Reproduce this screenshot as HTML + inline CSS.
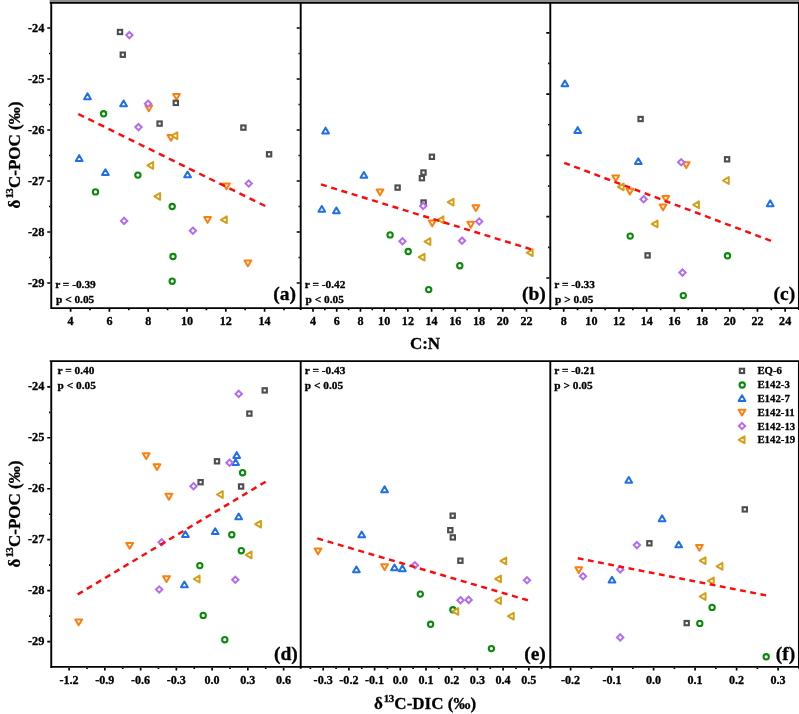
<!DOCTYPE html>
<html lang="en"><head><meta charset="utf-8"><title>d13C-POC vs C:N and d13C-DIC</title>
<style>html,body{margin:0;padding:0;background:#fff}body{width:799px;height:714px;overflow:hidden}svg{display:block}text{font-family:'Liberation Serif', 'DejaVu Serif', serif;font-weight:bold;fill:#000;stroke:#000;stroke-width:0.3px}</style></head><body>
<svg width="799" height="714" viewBox="0 0 799 714">
<rect width="799" height="714" fill="#fff"/>
<rect x="49.5" y="0" width="750" height="2.2" fill="#8e8e8e"/>
<g stroke="#000" stroke-width="1.9" fill="none" stroke-linecap="butt">
<path d="M50.25 308.1H799M51.25 2.7V309.1M300.7 2.7V309.90000000000003M550.3 2.7V309.90000000000003M798.9 2.7V309.90000000000003"/>
<path d="M49.75 361.1H799M50.25 666.9H799M51.25 361.1V667.9M300.7 361.1V668.6999999999999M550.3 361.1V668.6999999999999M798.9 361.1V668.6999999999999"/>
</g>
<path d="M49.75 2.8H799" stroke="#000" stroke-width="1.7"/>
<path d="M70.60 309.0v2.8M109.40 309.0v2.8M148.20 309.0v2.8M187.00 309.0v2.8M225.80 309.0v2.8M264.60 309.0v2.8M90.00 309.0v1.25M128.80 309.0v1.25M167.60 309.0v1.25M206.40 309.0v1.25M245.20 309.0v1.25M284.00 309.0v1.25M313.00 309.0v2.8M336.72 309.0v2.8M360.44 309.0v2.8M384.16 309.0v2.8M407.88 309.0v2.8M431.60 309.0v2.8M455.32 309.0v2.8M479.04 309.0v2.8M502.76 309.0v2.8M526.48 309.0v2.8M324.86 309.0v1.25M348.58 309.0v1.25M372.30 309.0v1.25M396.02 309.0v1.25M419.74 309.0v1.25M443.46 309.0v1.25M467.18 309.0v1.25M490.90 309.0v1.25M514.62 309.0v1.25M563.70 309.0v2.8M591.38 309.0v2.8M619.06 309.0v2.8M646.74 309.0v2.8M674.42 309.0v2.8M702.10 309.0v2.8M729.78 309.0v2.8M757.46 309.0v2.8M785.14 309.0v2.8M577.54 309.0v1.25M605.22 309.0v1.25M632.90 309.0v1.25M660.58 309.0v1.25M688.26 309.0v1.25M715.94 309.0v1.25M743.62 309.0v1.25M771.30 309.0v1.25M69.10 667.8v2.8M104.85 667.8v2.8M140.60 667.8v2.8M176.35 667.8v2.8M212.10 667.8v2.8M247.85 667.8v2.8M283.60 667.8v2.8M86.97 667.8v1.25M122.72 667.8v1.25M158.47 667.8v1.25M194.22 667.8v1.25M229.97 667.8v1.25M265.73 667.8v1.25M323.20 667.8v2.8M348.90 667.8v2.8M374.60 667.8v2.8M400.30 667.8v2.8M426.00 667.8v2.8M451.70 667.8v2.8M477.40 667.8v2.8M503.10 667.8v2.8M528.80 667.8v2.8M310.35 667.8v1.25M336.05 667.8v1.25M361.75 667.8v1.25M387.45 667.8v1.25M413.15 667.8v1.25M438.85 667.8v1.25M464.55 667.8v1.25M490.25 667.8v1.25M515.95 667.8v1.25M541.65 667.8v1.25M570.60 667.8v2.8M612.10 667.8v2.8M653.60 667.8v2.8M695.10 667.8v2.8M736.60 667.8v2.8M778.10 667.8v2.8M591.35 667.8v1.25M632.85 667.8v1.25M674.35 667.8v1.25M715.85 667.8v1.25M757.35 667.8v1.25M50.35 28.00h-3.1M50.35 79.00h-3.1M50.35 130.00h-3.1M50.35 181.00h-3.1M50.35 232.00h-3.1M50.35 283.00h-3.1M50.35 53.50h-1.3M50.35 104.50h-1.3M50.35 155.50h-1.3M50.35 206.50h-1.3M50.35 257.50h-1.3M299.8 28.00h-3.1M299.8 79.00h-3.1M299.8 130.00h-3.1M299.8 181.00h-3.1M299.8 232.00h-3.1M299.8 283.00h-3.1M299.8 53.50h-1.3M299.8 104.50h-1.3M299.8 155.50h-1.3M299.8 206.50h-1.3M299.8 257.50h-1.3M549.4 32.80h-3.1M549.4 94.10h-3.1M549.4 155.40h-3.1M549.4 216.70h-3.1M549.4 278.00h-3.1M549.4 63.45h-1.3M549.4 124.75h-1.3M549.4 186.05h-1.3M549.4 247.35h-1.3M50.35 386.80h-3.1M50.35 437.77h-3.1M50.35 488.74h-3.1M50.35 539.71h-3.1M50.35 590.68h-3.1M50.35 641.65h-3.1M50.35 412.29h-1.3M50.35 463.25h-1.3M50.35 514.23h-1.3M50.35 565.19h-1.3M50.35 616.16h-1.3" stroke="#000" stroke-width="1.7" fill="none"/>
<g font-size="12.4" text-anchor="end">
<text x="44.5" y="31.65">-24</text>
<text x="44.5" y="82.65">-25</text>
<text x="44.5" y="133.65">-26</text>
<text x="44.5" y="184.65">-27</text>
<text x="44.5" y="235.65">-28</text>
<text x="44.5" y="286.65">-29</text>
<text x="44.5" y="390.30">-24</text>
<text x="44.5" y="441.27">-25</text>
<text x="44.5" y="492.24">-26</text>
<text x="44.5" y="543.21">-27</text>
<text x="44.5" y="594.18">-28</text>
<text x="44.5" y="645.15">-29</text>
</g>
<g font-size="12.1" text-anchor="middle">
<text x="70.60" y="325.2">4</text>
<text x="109.40" y="325.2">6</text>
<text x="148.20" y="325.2">8</text>
<text x="187.00" y="325.2">10</text>
<text x="225.80" y="325.2">12</text>
<text x="264.60" y="325.2">14</text>
<text x="313.00" y="325.2">4</text>
<text x="336.72" y="325.2">6</text>
<text x="360.44" y="325.2">8</text>
<text x="384.16" y="325.2">10</text>
<text x="407.88" y="325.2">12</text>
<text x="431.60" y="325.2">14</text>
<text x="455.32" y="325.2">16</text>
<text x="479.04" y="325.2">18</text>
<text x="502.76" y="325.2">20</text>
<text x="526.48" y="325.2">22</text>
<text x="563.70" y="325.2">8</text>
<text x="591.38" y="325.2">10</text>
<text x="619.06" y="325.2">12</text>
<text x="646.74" y="325.2">14</text>
<text x="674.42" y="325.2">16</text>
<text x="702.10" y="325.2">18</text>
<text x="729.78" y="325.2">20</text>
<text x="757.46" y="325.2">22</text>
<text x="785.14" y="325.2">24</text>
<text x="69.10" y="684.0">-1.2</text>
<text x="104.85" y="684.0">-0.9</text>
<text x="140.60" y="684.0">-0.6</text>
<text x="176.35" y="684.0">-0.3</text>
<text x="212.10" y="684.0">0.0</text>
<text x="247.85" y="684.0">0.3</text>
<text x="283.60" y="684.0">0.6</text>
<text x="323.20" y="684.0">-0.3</text>
<text x="348.90" y="684.0">-0.2</text>
<text x="374.60" y="684.0">-0.1</text>
<text x="400.30" y="684.0">0.0</text>
<text x="426.00" y="684.0">0.1</text>
<text x="451.70" y="684.0">0.2</text>
<text x="477.40" y="684.0">0.3</text>
<text x="503.10" y="684.0">0.4</text>
<text x="528.80" y="684.0">0.5</text>
<text x="570.60" y="684.0">-0.2</text>
<text x="612.10" y="684.0">-0.1</text>
<text x="653.60" y="684.0">0.0</text>
<text x="695.10" y="684.0">0.1</text>
<text x="736.60" y="684.0">0.2</text>
<text x="778.10" y="684.0">0.3</text>
</g>
<g font-size="11.35">
<text x="55.2" y="287.8">r = -0.39</text><text x="56.0" y="302.8">p &lt; 0.05</text>
<text x="304.8" y="287.8">r = -0.42</text><text x="305.6" y="302.8">p &lt; 0.05</text>
<text x="554.3" y="287.8">r = -0.33</text><text x="555.0999999999999" y="302.8">p &gt; 0.05</text>
<text x="57.6" y="373.7">r = 0.40</text><text x="57.6" y="388.7">p &lt; 0.05</text>
<text x="304.8" y="373.7">r = -0.43</text><text x="304.8" y="388.7">p &lt; 0.05</text>
<text x="554.3" y="373.7">r = -0.21</text><text x="554.3" y="388.7">p &gt; 0.05</text>
</g>
<g font-size="19.5" text-anchor="end">
<text x="296" y="299.6">(a)</text>
<text x="545.8" y="299.6">(b)</text>
<text x="795.2" y="299.6">(c)</text>
<text x="297.8" y="659.6">(d)</text>
<text x="545.8" y="659.6">(e)</text>
<text x="795.2" y="659.6">(f)</text>
</g>
<g font-size="17" text-anchor="middle">
<text x="425.0" y="348.6">C:N</text>
<text x="425" y="708.6">δ<tspan font-size="11" dy="-7.1" dx="1.0" letter-spacing="-0.55">13</tspan><tspan dy="7.1" dx="0.7">C-DIC (‰)</tspan></text>
<text transform="translate(19.5 155) rotate(-90)">δ<tspan font-size="11" dy="-6.3" dx="1.0" letter-spacing="-0.55">13</tspan><tspan dy="6.3" dx="0.7">C-POC (‰)</tspan></text>
<text transform="translate(19.5 514) rotate(-90)">δ<tspan font-size="11" dy="-6.3" dx="1.0" letter-spacing="-0.55">13</tspan><tspan dy="6.3" dx="0.7">C-POC (‰)</tspan></text>
</g>
<g>
<circle cx="103.60" cy="113.80" r="2.65" fill="#fff" stroke="#0a8a0a" stroke-width="2.1"/>
<circle cx="137.90" cy="175.10" r="2.65" fill="#fff" stroke="#0a8a0a" stroke-width="2.1"/>
<circle cx="95.50" cy="191.90" r="2.65" fill="#fff" stroke="#0a8a0a" stroke-width="2.1"/>
<circle cx="172.20" cy="206.50" r="2.65" fill="#fff" stroke="#0a8a0a" stroke-width="2.1"/>
<circle cx="173.00" cy="256.50" r="2.65" fill="#fff" stroke="#0a8a0a" stroke-width="2.1"/>
<circle cx="172.20" cy="281.20" r="2.65" fill="#fff" stroke="#0a8a0a" stroke-width="2.1"/>
<path d="M87.50 93.35L90.88 99.15L84.12 99.15Z" fill="#fff" stroke="#1f6feb" stroke-width="2.0" stroke-linejoin="round"/>
<path d="M123.60 100.45L126.98 106.25L120.22 106.25Z" fill="#fff" stroke="#1f6feb" stroke-width="2.0" stroke-linejoin="round"/>
<path d="M79.20 155.15L82.58 160.95L75.82 160.95Z" fill="#fff" stroke="#1f6feb" stroke-width="2.0" stroke-linejoin="round"/>
<path d="M105.40 169.25L108.78 175.05L102.02 175.05Z" fill="#fff" stroke="#1f6feb" stroke-width="2.0" stroke-linejoin="round"/>
<path d="M187.60 171.55L190.98 177.35L184.22 177.35Z" fill="#fff" stroke="#1f6feb" stroke-width="2.0" stroke-linejoin="round"/>
<path d="M148.80 111.25L152.18 105.45L145.42 105.45Z" fill="#fff" stroke="#ff7f0e" stroke-width="2.0" stroke-linejoin="round"/>
<path d="M176.50 99.85L179.88 94.05L173.12 94.05Z" fill="#fff" stroke="#ff7f0e" stroke-width="2.0" stroke-linejoin="round"/>
<path d="M171.00 140.75L174.38 134.95L167.62 134.95Z" fill="#fff" stroke="#ff7f0e" stroke-width="2.0" stroke-linejoin="round"/>
<path d="M226.50 189.35L229.88 183.55L223.12 183.55Z" fill="#fff" stroke="#ff7f0e" stroke-width="2.0" stroke-linejoin="round"/>
<path d="M207.60 222.85L210.98 217.05L204.22 217.05Z" fill="#fff" stroke="#ff7f0e" stroke-width="2.0" stroke-linejoin="round"/>
<path d="M247.90 266.25L251.28 260.45L244.52 260.45Z" fill="#fff" stroke="#ff7f0e" stroke-width="2.0" stroke-linejoin="round"/>
<rect x="117.85" y="29.85" width="4.30" height="4.30" fill="#fff" stroke="#4d4d4d" stroke-width="2.1"/>
<rect x="120.65" y="52.55" width="4.30" height="4.30" fill="#fff" stroke="#4d4d4d" stroke-width="2.1"/>
<rect x="173.65" y="100.75" width="4.30" height="4.30" fill="#fff" stroke="#4d4d4d" stroke-width="2.1"/>
<rect x="157.45" y="121.45" width="4.30" height="4.30" fill="#fff" stroke="#4d4d4d" stroke-width="2.1"/>
<rect x="241.25" y="125.45" width="4.30" height="4.30" fill="#fff" stroke="#4d4d4d" stroke-width="2.1"/>
<rect x="266.95" y="152.15" width="4.30" height="4.30" fill="#fff" stroke="#4d4d4d" stroke-width="2.1"/>
<path d="M129.40 31.95L132.55 35.10L129.40 38.25L126.25 35.10Z" fill="#fff" stroke="#b36bf2" stroke-width="2.0"/>
<path d="M148.00 100.55L151.15 103.70L148.00 106.85L144.85 103.70Z" fill="#fff" stroke="#b36bf2" stroke-width="2.0"/>
<path d="M138.50 123.95L141.65 127.10L138.50 130.25L135.35 127.10Z" fill="#fff" stroke="#b36bf2" stroke-width="2.0"/>
<path d="M124.10 217.75L127.25 220.90L124.10 224.05L120.95 220.90Z" fill="#fff" stroke="#b36bf2" stroke-width="2.0"/>
<path d="M192.90 227.55L196.05 230.70L192.90 233.85L189.75 230.70Z" fill="#fff" stroke="#b36bf2" stroke-width="2.0"/>
<path d="M248.70 180.35L251.85 183.50L248.70 186.65L245.55 183.50Z" fill="#fff" stroke="#b36bf2" stroke-width="2.0"/>
<path d="M171.55 135.70L177.35 132.32L177.35 139.08Z" fill="#fff" stroke="#d4a017" stroke-width="2.0" stroke-linejoin="round"/>
<path d="M147.35 165.40L153.15 162.02L153.15 168.78Z" fill="#fff" stroke="#d4a017" stroke-width="2.0" stroke-linejoin="round"/>
<path d="M154.35 196.40L160.15 193.02L160.15 199.78Z" fill="#fff" stroke="#d4a017" stroke-width="2.0" stroke-linejoin="round"/>
<path d="M220.95 219.80L226.75 216.42L226.75 223.18Z" fill="#fff" stroke="#d4a017" stroke-width="2.0" stroke-linejoin="round"/>
</g>
<g>
<circle cx="390.10" cy="234.90" r="2.65" fill="#fff" stroke="#0a8a0a" stroke-width="2.1"/>
<circle cx="408.20" cy="251.50" r="2.65" fill="#fff" stroke="#0a8a0a" stroke-width="2.1"/>
<circle cx="459.80" cy="265.70" r="2.65" fill="#fff" stroke="#0a8a0a" stroke-width="2.1"/>
<circle cx="428.70" cy="289.60" r="2.65" fill="#fff" stroke="#0a8a0a" stroke-width="2.1"/>
<path d="M325.60 127.65L328.98 133.45L322.22 133.45Z" fill="#fff" stroke="#1f6feb" stroke-width="2.0" stroke-linejoin="round"/>
<path d="M363.90 171.95L367.28 177.75L360.52 177.75Z" fill="#fff" stroke="#1f6feb" stroke-width="2.0" stroke-linejoin="round"/>
<path d="M321.80 205.95L325.18 211.75L318.42 211.75Z" fill="#fff" stroke="#1f6feb" stroke-width="2.0" stroke-linejoin="round"/>
<path d="M336.40 207.45L339.78 213.25L333.02 213.25Z" fill="#fff" stroke="#1f6feb" stroke-width="2.0" stroke-linejoin="round"/>
<path d="M380.00 195.25L383.38 189.45L376.62 189.45Z" fill="#fff" stroke="#ff7f0e" stroke-width="2.0" stroke-linejoin="round"/>
<path d="M475.90 210.95L479.28 205.15L472.52 205.15Z" fill="#fff" stroke="#ff7f0e" stroke-width="2.0" stroke-linejoin="round"/>
<path d="M432.20 226.35L435.58 220.55L428.82 220.55Z" fill="#fff" stroke="#ff7f0e" stroke-width="2.0" stroke-linejoin="round"/>
<path d="M470.80 227.65L474.18 221.85L467.42 221.85Z" fill="#fff" stroke="#ff7f0e" stroke-width="2.0" stroke-linejoin="round"/>
<rect x="429.75" y="154.65" width="4.30" height="4.30" fill="#fff" stroke="#4d4d4d" stroke-width="2.1"/>
<rect x="421.35" y="170.35" width="4.30" height="4.30" fill="#fff" stroke="#4d4d4d" stroke-width="2.1"/>
<rect x="419.75" y="176.05" width="4.30" height="4.30" fill="#fff" stroke="#4d4d4d" stroke-width="2.1"/>
<rect x="395.45" y="185.45" width="4.30" height="4.30" fill="#fff" stroke="#4d4d4d" stroke-width="2.1"/>
<rect x="421.45" y="200.35" width="4.30" height="4.30" fill="#fff" stroke="#4d4d4d" stroke-width="2.1"/>
<path d="M423.20 202.85L426.35 206.00L423.20 209.15L420.05 206.00Z" fill="#fff" stroke="#b36bf2" stroke-width="2.0"/>
<path d="M479.20 218.35L482.35 221.50L479.20 224.65L476.05 221.50Z" fill="#fff" stroke="#b36bf2" stroke-width="2.0"/>
<path d="M402.50 238.15L405.65 241.30L402.50 244.45L399.35 241.30Z" fill="#fff" stroke="#b36bf2" stroke-width="2.0"/>
<path d="M462.00 237.55L465.15 240.70L462.00 243.85L458.85 240.70Z" fill="#fff" stroke="#b36bf2" stroke-width="2.0"/>
<path d="M447.75 202.20L453.55 198.82L453.55 205.58Z" fill="#fff" stroke="#d4a017" stroke-width="2.0" stroke-linejoin="round"/>
<path d="M437.65 219.80L443.45 216.42L443.45 223.18Z" fill="#fff" stroke="#d4a017" stroke-width="2.0" stroke-linejoin="round"/>
<path d="M424.55 241.60L430.35 238.22L430.35 244.98Z" fill="#fff" stroke="#d4a017" stroke-width="2.0" stroke-linejoin="round"/>
<path d="M418.75 257.20L424.55 253.82L424.55 260.58Z" fill="#fff" stroke="#d4a017" stroke-width="2.0" stroke-linejoin="round"/>
<path d="M526.85 252.70L532.65 249.32L532.65 256.08Z" fill="#fff" stroke="#d4a017" stroke-width="2.0" stroke-linejoin="round"/>
</g>
<g>
<circle cx="630.20" cy="236.10" r="2.65" fill="#fff" stroke="#0a8a0a" stroke-width="2.1"/>
<circle cx="727.50" cy="255.80" r="2.65" fill="#fff" stroke="#0a8a0a" stroke-width="2.1"/>
<circle cx="683.30" cy="295.60" r="2.65" fill="#fff" stroke="#0a8a0a" stroke-width="2.1"/>
<path d="M564.90 80.45L568.28 86.25L561.52 86.25Z" fill="#fff" stroke="#1f6feb" stroke-width="2.0" stroke-linejoin="round"/>
<path d="M577.70 127.15L581.08 132.95L574.32 132.95Z" fill="#fff" stroke="#1f6feb" stroke-width="2.0" stroke-linejoin="round"/>
<path d="M638.30 158.25L641.68 164.05L634.92 164.05Z" fill="#fff" stroke="#1f6feb" stroke-width="2.0" stroke-linejoin="round"/>
<path d="M770.20 200.35L773.58 206.15L766.82 206.15Z" fill="#fff" stroke="#1f6feb" stroke-width="2.0" stroke-linejoin="round"/>
<path d="M686.20 168.05L689.58 162.25L682.82 162.25Z" fill="#fff" stroke="#ff7f0e" stroke-width="2.0" stroke-linejoin="round"/>
<path d="M615.70 181.25L619.08 175.45L612.32 175.45Z" fill="#fff" stroke="#ff7f0e" stroke-width="2.0" stroke-linejoin="round"/>
<path d="M629.90 194.45L633.28 188.65L626.52 188.65Z" fill="#fff" stroke="#ff7f0e" stroke-width="2.0" stroke-linejoin="round"/>
<path d="M665.80 201.85L669.18 196.05L662.42 196.05Z" fill="#fff" stroke="#ff7f0e" stroke-width="2.0" stroke-linejoin="round"/>
<path d="M663.10 210.35L666.48 204.55L659.72 204.55Z" fill="#fff" stroke="#ff7f0e" stroke-width="2.0" stroke-linejoin="round"/>
<rect x="638.45" y="116.85" width="4.30" height="4.30" fill="#fff" stroke="#4d4d4d" stroke-width="2.1"/>
<rect x="724.95" y="157.15" width="4.30" height="4.30" fill="#fff" stroke="#4d4d4d" stroke-width="2.1"/>
<rect x="645.45" y="253.25" width="4.30" height="4.30" fill="#fff" stroke="#4d4d4d" stroke-width="2.1"/>
<path d="M681.20 159.15L684.35 162.30L681.20 165.45L678.05 162.30Z" fill="#fff" stroke="#b36bf2" stroke-width="2.0"/>
<path d="M643.60 196.05L646.75 199.20L643.60 202.35L640.45 199.20Z" fill="#fff" stroke="#b36bf2" stroke-width="2.0"/>
<path d="M682.50 269.45L685.65 272.60L682.50 275.75L679.35 272.60Z" fill="#fff" stroke="#b36bf2" stroke-width="2.0"/>
<path d="M722.95 180.50L728.75 177.12L728.75 183.88Z" fill="#fff" stroke="#d4a017" stroke-width="2.0" stroke-linejoin="round"/>
<path d="M617.85 186.90L623.65 183.52L623.65 190.28Z" fill="#fff" stroke="#d4a017" stroke-width="2.0" stroke-linejoin="round"/>
<path d="M693.15 204.80L698.95 201.42L698.95 208.18Z" fill="#fff" stroke="#d4a017" stroke-width="2.0" stroke-linejoin="round"/>
<path d="M651.75 223.90L657.55 220.52L657.55 227.28Z" fill="#fff" stroke="#d4a017" stroke-width="2.0" stroke-linejoin="round"/>
</g>
<g>
<circle cx="242.60" cy="472.70" r="2.65" fill="#fff" stroke="#0a8a0a" stroke-width="2.1"/>
<circle cx="231.80" cy="534.70" r="2.65" fill="#fff" stroke="#0a8a0a" stroke-width="2.1"/>
<circle cx="241.30" cy="550.70" r="2.65" fill="#fff" stroke="#0a8a0a" stroke-width="2.1"/>
<circle cx="199.80" cy="565.60" r="2.65" fill="#fff" stroke="#0a8a0a" stroke-width="2.1"/>
<circle cx="203.20" cy="615.40" r="2.65" fill="#fff" stroke="#0a8a0a" stroke-width="2.1"/>
<circle cx="224.80" cy="639.70" r="2.65" fill="#fff" stroke="#0a8a0a" stroke-width="2.1"/>
<path d="M236.70 452.15L240.08 457.95L233.32 457.95Z" fill="#fff" stroke="#1f6feb" stroke-width="2.0" stroke-linejoin="round"/>
<path d="M235.60 459.15L238.98 464.95L232.22 464.95Z" fill="#fff" stroke="#1f6feb" stroke-width="2.0" stroke-linejoin="round"/>
<path d="M238.70 513.55L242.08 519.35L235.32 519.35Z" fill="#fff" stroke="#1f6feb" stroke-width="2.0" stroke-linejoin="round"/>
<path d="M185.40 531.25L188.78 537.05L182.02 537.05Z" fill="#fff" stroke="#1f6feb" stroke-width="2.0" stroke-linejoin="round"/>
<path d="M215.20 528.25L218.58 534.05L211.82 534.05Z" fill="#fff" stroke="#1f6feb" stroke-width="2.0" stroke-linejoin="round"/>
<path d="M184.40 581.55L187.78 587.35L181.02 587.35Z" fill="#fff" stroke="#1f6feb" stroke-width="2.0" stroke-linejoin="round"/>
<path d="M146.20 459.05L149.58 453.25L142.82 453.25Z" fill="#fff" stroke="#ff7f0e" stroke-width="2.0" stroke-linejoin="round"/>
<path d="M157.00 470.05L160.38 464.25L153.62 464.25Z" fill="#fff" stroke="#ff7f0e" stroke-width="2.0" stroke-linejoin="round"/>
<path d="M168.90 499.65L172.28 493.85L165.52 493.85Z" fill="#fff" stroke="#ff7f0e" stroke-width="2.0" stroke-linejoin="round"/>
<path d="M129.70 548.75L133.08 542.95L126.32 542.95Z" fill="#fff" stroke="#ff7f0e" stroke-width="2.0" stroke-linejoin="round"/>
<path d="M166.50 581.95L169.88 576.15L163.12 576.15Z" fill="#fff" stroke="#ff7f0e" stroke-width="2.0" stroke-linejoin="round"/>
<path d="M78.70 625.25L82.08 619.45L75.32 619.45Z" fill="#fff" stroke="#ff7f0e" stroke-width="2.0" stroke-linejoin="round"/>
<rect x="262.55" y="388.25" width="4.30" height="4.30" fill="#fff" stroke="#4d4d4d" stroke-width="2.1"/>
<rect x="247.25" y="411.45" width="4.30" height="4.30" fill="#fff" stroke="#4d4d4d" stroke-width="2.1"/>
<rect x="214.85" y="459.15" width="4.30" height="4.30" fill="#fff" stroke="#4d4d4d" stroke-width="2.1"/>
<rect x="198.45" y="480.05" width="4.30" height="4.30" fill="#fff" stroke="#4d4d4d" stroke-width="2.1"/>
<rect x="238.95" y="484.35" width="4.30" height="4.30" fill="#fff" stroke="#4d4d4d" stroke-width="2.1"/>
<path d="M238.70 390.75L241.85 393.90L238.70 397.05L235.55 393.90Z" fill="#fff" stroke="#b36bf2" stroke-width="2.0"/>
<path d="M229.50 459.55L232.65 462.70L229.50 465.85L226.35 462.70Z" fill="#fff" stroke="#b36bf2" stroke-width="2.0"/>
<path d="M193.50 483.05L196.65 486.20L193.50 489.35L190.35 486.20Z" fill="#fff" stroke="#b36bf2" stroke-width="2.0"/>
<path d="M161.70 539.15L164.85 542.30L161.70 545.45L158.55 542.30Z" fill="#fff" stroke="#b36bf2" stroke-width="2.0"/>
<path d="M159.20 586.35L162.35 589.50L159.20 592.65L156.05 589.50Z" fill="#fff" stroke="#b36bf2" stroke-width="2.0"/>
<path d="M235.30 576.65L238.45 579.80L235.30 582.95L232.15 579.80Z" fill="#fff" stroke="#b36bf2" stroke-width="2.0"/>
<path d="M216.95 494.50L222.75 491.12L222.75 497.88Z" fill="#fff" stroke="#d4a017" stroke-width="2.0" stroke-linejoin="round"/>
<path d="M255.15 524.20L260.95 520.82L260.95 527.58Z" fill="#fff" stroke="#d4a017" stroke-width="2.0" stroke-linejoin="round"/>
<path d="M245.75 554.90L251.55 551.52L251.55 558.28Z" fill="#fff" stroke="#d4a017" stroke-width="2.0" stroke-linejoin="round"/>
<path d="M193.75 579.00L199.55 575.62L199.55 582.38Z" fill="#fff" stroke="#d4a017" stroke-width="2.0" stroke-linejoin="round"/>
</g>
<g>
<circle cx="420.30" cy="594.10" r="2.65" fill="#fff" stroke="#0a8a0a" stroke-width="2.1"/>
<circle cx="452.90" cy="609.80" r="2.65" fill="#fff" stroke="#0a8a0a" stroke-width="2.1"/>
<circle cx="430.60" cy="624.30" r="2.65" fill="#fff" stroke="#0a8a0a" stroke-width="2.1"/>
<circle cx="491.40" cy="648.60" r="2.65" fill="#fff" stroke="#0a8a0a" stroke-width="2.1"/>
<path d="M384.60 486.35L387.98 492.15L381.22 492.15Z" fill="#fff" stroke="#1f6feb" stroke-width="2.0" stroke-linejoin="round"/>
<path d="M361.70 531.55L365.08 537.35L358.32 537.35Z" fill="#fff" stroke="#1f6feb" stroke-width="2.0" stroke-linejoin="round"/>
<path d="M356.40 566.45L359.78 572.25L353.02 572.25Z" fill="#fff" stroke="#1f6feb" stroke-width="2.0" stroke-linejoin="round"/>
<path d="M394.50 564.55L397.88 570.35L391.12 570.35Z" fill="#fff" stroke="#1f6feb" stroke-width="2.0" stroke-linejoin="round"/>
<path d="M402.40 565.35L405.78 571.15L399.02 571.15Z" fill="#fff" stroke="#1f6feb" stroke-width="2.0" stroke-linejoin="round"/>
<path d="M318.00 554.35L321.38 548.55L314.62 548.55Z" fill="#fff" stroke="#ff7f0e" stroke-width="2.0" stroke-linejoin="round"/>
<path d="M384.60 570.05L387.98 564.25L381.22 564.25Z" fill="#fff" stroke="#ff7f0e" stroke-width="2.0" stroke-linejoin="round"/>
<rect x="450.55" y="513.55" width="4.30" height="4.30" fill="#fff" stroke="#4d4d4d" stroke-width="2.1"/>
<rect x="448.15" y="528.05" width="4.30" height="4.30" fill="#fff" stroke="#4d4d4d" stroke-width="2.1"/>
<rect x="450.65" y="535.25" width="4.30" height="4.30" fill="#fff" stroke="#4d4d4d" stroke-width="2.1"/>
<rect x="458.25" y="558.55" width="4.30" height="4.30" fill="#fff" stroke="#4d4d4d" stroke-width="2.1"/>
<path d="M414.90 562.15L418.05 565.30L414.90 568.45L411.75 565.30Z" fill="#fff" stroke="#b36bf2" stroke-width="2.0"/>
<path d="M527.00 577.15L530.15 580.30L527.00 583.45L523.85 580.30Z" fill="#fff" stroke="#b36bf2" stroke-width="2.0"/>
<path d="M460.50 597.05L463.65 600.20L460.50 603.35L457.35 600.20Z" fill="#fff" stroke="#b36bf2" stroke-width="2.0"/>
<path d="M468.60 596.75L471.75 599.90L468.60 603.05L465.45 599.90Z" fill="#fff" stroke="#b36bf2" stroke-width="2.0"/>
<path d="M500.45 560.90L506.25 557.52L506.25 564.28Z" fill="#fff" stroke="#d4a017" stroke-width="2.0" stroke-linejoin="round"/>
<path d="M495.15 578.90L500.95 575.52L500.95 582.28Z" fill="#fff" stroke="#d4a017" stroke-width="2.0" stroke-linejoin="round"/>
<path d="M495.15 600.70L500.95 597.32L500.95 604.08Z" fill="#fff" stroke="#d4a017" stroke-width="2.0" stroke-linejoin="round"/>
<path d="M452.45 611.40L458.25 608.02L458.25 614.78Z" fill="#fff" stroke="#d4a017" stroke-width="2.0" stroke-linejoin="round"/>
<path d="M507.95 616.20L513.75 612.82L513.75 619.58Z" fill="#fff" stroke="#d4a017" stroke-width="2.0" stroke-linejoin="round"/>
</g>
<g>
<circle cx="712.10" cy="607.40" r="2.65" fill="#fff" stroke="#0a8a0a" stroke-width="2.1"/>
<circle cx="699.80" cy="623.40" r="2.65" fill="#fff" stroke="#0a8a0a" stroke-width="2.1"/>
<circle cx="766.20" cy="656.80" r="2.65" fill="#fff" stroke="#0a8a0a" stroke-width="2.1"/>
<path d="M628.80 476.95L632.18 482.75L625.42 482.75Z" fill="#fff" stroke="#1f6feb" stroke-width="2.0" stroke-linejoin="round"/>
<path d="M662.10 515.35L665.48 521.15L658.72 521.15Z" fill="#fff" stroke="#1f6feb" stroke-width="2.0" stroke-linejoin="round"/>
<path d="M678.70 541.55L682.08 547.35L675.32 547.35Z" fill="#fff" stroke="#1f6feb" stroke-width="2.0" stroke-linejoin="round"/>
<path d="M612.00 576.75L615.38 582.55L608.62 582.55Z" fill="#fff" stroke="#1f6feb" stroke-width="2.0" stroke-linejoin="round"/>
<path d="M699.40 550.75L702.78 544.95L696.02 544.95Z" fill="#fff" stroke="#ff7f0e" stroke-width="2.0" stroke-linejoin="round"/>
<path d="M578.80 573.05L582.18 567.25L575.42 567.25Z" fill="#fff" stroke="#ff7f0e" stroke-width="2.0" stroke-linejoin="round"/>
<rect x="742.65" y="507.25" width="4.30" height="4.30" fill="#fff" stroke="#4d4d4d" stroke-width="2.1"/>
<rect x="647.25" y="541.15" width="4.30" height="4.30" fill="#fff" stroke="#4d4d4d" stroke-width="2.1"/>
<rect x="684.55" y="620.95" width="4.30" height="4.30" fill="#fff" stroke="#4d4d4d" stroke-width="2.1"/>
<path d="M636.90 541.95L640.05 545.10L636.90 548.25L633.75 545.10Z" fill="#fff" stroke="#b36bf2" stroke-width="2.0"/>
<path d="M583.00 573.15L586.15 576.30L583.00 579.45L579.85 576.30Z" fill="#fff" stroke="#b36bf2" stroke-width="2.0"/>
<path d="M620.20 566.25L623.35 569.40L620.20 572.55L617.05 569.40Z" fill="#fff" stroke="#b36bf2" stroke-width="2.0"/>
<path d="M620.20 634.25L623.35 637.40L620.20 640.55L617.05 637.40Z" fill="#fff" stroke="#b36bf2" stroke-width="2.0"/>
<path d="M699.75 560.70L705.55 557.32L705.55 564.08Z" fill="#fff" stroke="#d4a017" stroke-width="2.0" stroke-linejoin="round"/>
<path d="M716.65 566.30L722.45 562.92L722.45 569.68Z" fill="#fff" stroke="#d4a017" stroke-width="2.0" stroke-linejoin="round"/>
<path d="M707.95 580.90L713.75 577.52L713.75 584.28Z" fill="#fff" stroke="#d4a017" stroke-width="2.0" stroke-linejoin="round"/>
<path d="M699.75 596.50L705.55 593.12L705.55 599.88Z" fill="#fff" stroke="#d4a017" stroke-width="2.0" stroke-linejoin="round"/>
</g>
<g stroke="#ff0a0a" stroke-width="2.45" fill="none">
<path d="M78.3 114.0L265.2 206.0" stroke-dasharray="6.29 4.94"/>
<path d="M321 184.4L531.2 249.3" stroke-dasharray="5.99 4.71"/>
<path d="M564.2 162.8L770.9 240.8" stroke-dasharray="6.02 4.73"/>
<path d="M77.7 594.4L265.6 481.7" stroke-dasharray="5.97 4.69"/>
<path d="M317.3 538.4L527.9 600.3" stroke-dasharray="5.98 4.70"/>
<path d="M577.8 558.3L766.2 595.4" stroke-dasharray="5.79 4.55"/>
</g>
<g font-size="10.8">
<rect x="739.85" y="368.75" width="4.30" height="4.30" fill="#fff" stroke="#4d4d4d" stroke-width="2.1"/>
<text x="757.4" y="374.40">EQ-6</text>
<circle cx="742.20" cy="384.98" r="2.65" fill="#fff" stroke="#0a8a0a" stroke-width="2.1"/>
<text x="757.4" y="388.18">E142-3</text>
<path d="M742.00 395.21L745.38 401.01L738.62 401.01Z" fill="#fff" stroke="#1f6feb" stroke-width="2.0" stroke-linejoin="round"/>
<text x="757.4" y="401.96">E142-7</text>
<path d="M742.00 415.49L745.38 409.69L738.62 409.69Z" fill="#fff" stroke="#ff7f0e" stroke-width="2.0" stroke-linejoin="round"/>
<text x="757.4" y="415.74">E142-11</text>
<path d="M742.00 422.87L745.15 426.02L742.00 429.17L738.85 426.02Z" fill="#fff" stroke="#b36bf2" stroke-width="2.0"/>
<text x="757.4" y="429.52">E142-13</text>
<path d="M738.75 439.80L744.55 436.42L744.55 443.18Z" fill="#fff" stroke="#d4a017" stroke-width="2.0" stroke-linejoin="round"/>
<text x="757.4" y="443.30">E142-19</text>
</g>
</svg></body></html>
